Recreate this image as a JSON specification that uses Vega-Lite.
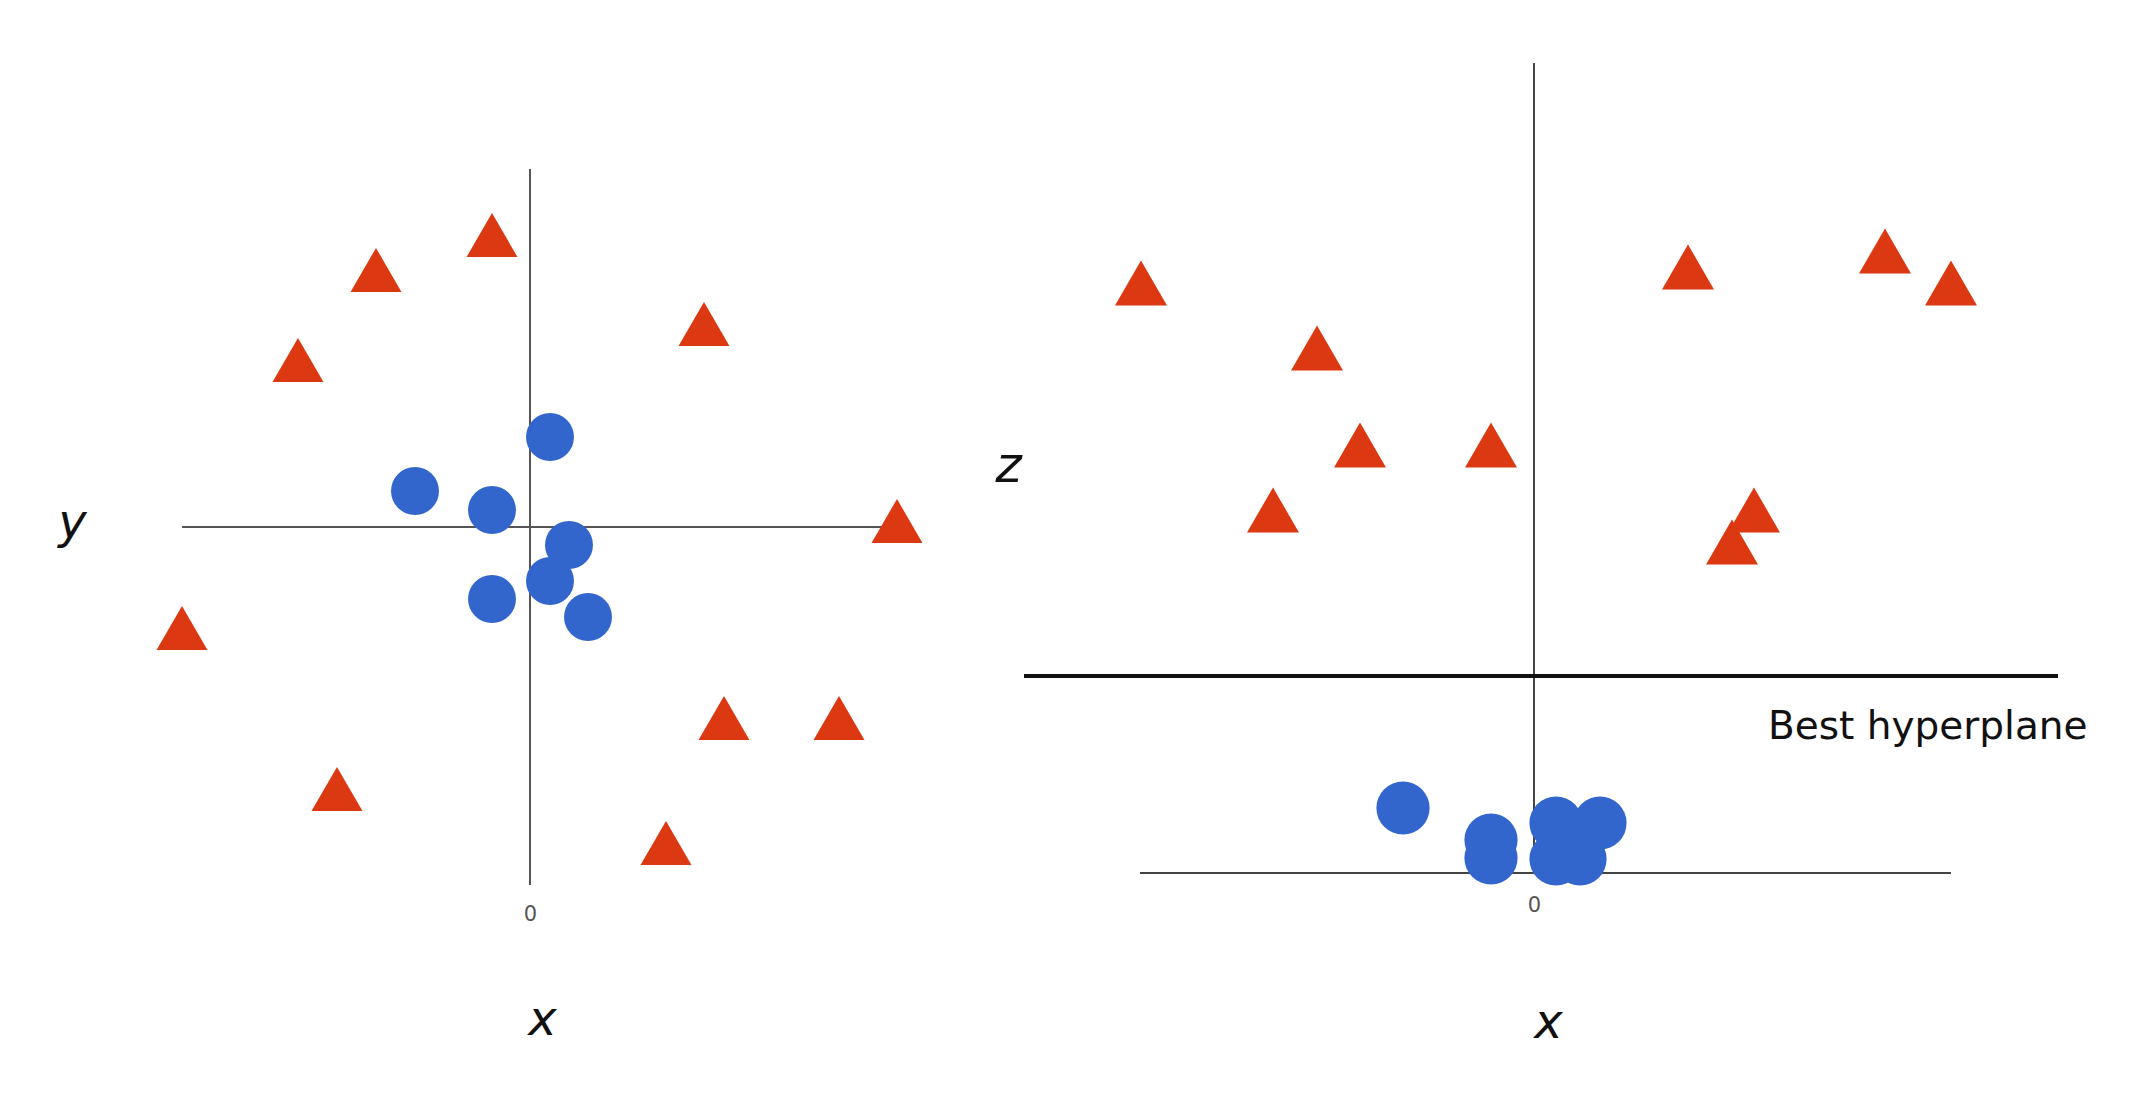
{
  "$schema": "https://vega.github.io/schema/vega-lite/v6.json",
  "background": "white",
  "padding": {"left": 57, "top": 62, "right": 10, "bottom": 30},
  "config": {"view": {"stroke": null}},
  "bounds": "flush",
  "spacing": 129,
  "hconcat": [
    {
      "width": 713,
      "height": 822,
      "encoding": {
        "x": {
          "field": "x", "type": "quantitative",
          "scale": {"domain": [-6.96, 7.3], "nice": false, "zero": false},
          "axis": {"values": [0], "domain": false, "ticks": false, "tickSize": 0, "grid": false,
                   "labelPadding": 18, "labelFontSize": 21, "labelColor": "#555", "labelFont": "DejaVu Sans",
                   "title": "x", "titleFont": "DejaVu Sans", "titleFontStyle": "italic", "titleFontWeight": "normal",
                   "titleFontSize": 48, "titleColor": "#111", "titleX": 360, "titleY": 149,
                   "titleBaseline": "alphabetic", "titleAlign": "center"}
        },
        "y": {
          "field": "y", "type": "quantitative",
          "scale": {"domain": [-7.16, 9.28], "nice": false, "zero": false},
          "axis": {"labels": false, "domain": false, "ticks": false, "grid": false,
                   "title": "y", "titleFont": "DejaVu Sans", "titleFontStyle": "italic", "titleFontWeight": "normal",
                   "titleFontSize": 48, "titleColor": "#111", "titleAngle": 0, "titleX": -110, "titleY": 474,
                   "titleBaseline": "alphabetic", "titleAlign": "center"}
        }
      },
      "layer": [
        {
          "data": {"values": [
            {"x": 0, "y": -7.16, "x2": 0, "y2": 7.16},
            {"x": -6.96, "y": 0, "x2": 7.3, "y2": 0}
          ]},
          "mark": {"type": "rule", "color": "#555", "strokeWidth": 2},
          "encoding": {"x2": {"field": "x2"}, "y2": {"field": "y2"}}
        },
        {
          "data": {"values": [
            {"x": -0.76, "y": 5.84},
            {"x": -3.08, "y": 5.14},
            {"x": -4.64, "y": 3.34},
            {"x": 3.48, "y": 4.06},
            {"x": 7.34, "y": 0.12},
            {"x": -6.96, "y": -2.02},
            {"x": 3.88, "y": -3.82},
            {"x": 6.18, "y": -3.82},
            {"x": -3.86, "y": -5.24},
            {"x": 2.72, "y": -6.32}
          ]},
          "mark": {"type": "point", "shape": "triangle-up", "filled": true, "opacity": 1, "color": "#DC3912", "size": 2600}
        },
        {
          "data": {"values": [
            {"x": 0.4, "y": 1.8},
            {"x": -2.3, "y": 0.72},
            {"x": -0.76, "y": 0.34},
            {"x": 0.78, "y": -0.36},
            {"x": 0.4, "y": -1.08},
            {"x": -0.76, "y": -1.44},
            {"x": 1.16, "y": -1.8}
          ]},
          "mark": {"type": "point", "shape": "circle", "filled": true, "opacity": 1, "color": "#3366CC", "size": 2300}
        }
      ]
    },
    {
      "width": 1034,
      "height": 822,
      "encoding": {
        "x": {
          "field": "x", "type": "quantitative",
          "scale": {"domain": [-10.2, 10.48], "nice": false, "zero": false},
          "axis": {"values": [0], "domain": false, "ticks": false, "tickSize": 0, "grid": false,
                   "labelPadding": 9, "labelFontSize": 21, "labelColor": "#555", "labelFont": "DejaVu Sans",
                   "title": "x", "titleFont": "DejaVu Sans", "titleFontStyle": "italic", "titleFontWeight": "normal",
                   "titleFontSize": 48, "titleColor": "#111", "titleX": 524, "titleY": 152,
                   "titleBaseline": "alphabetic", "titleAlign": "center"}
        },
        "y": {
          "field": "z", "type": "quantitative",
          "scale": {"domain": [-0.24, 16.2], "nice": false, "zero": false},
          "axis": {"labels": false, "domain": false, "ticks": false, "grid": false,
                   "title": "z", "titleFont": "DejaVu Sans", "titleFontStyle": "italic", "titleFontWeight": "normal",
                   "titleFontSize": 50, "titleColor": "#111", "titleAngle": 0, "titleX": -16, "titleY": 418,
                   "titleBaseline": "alphabetic", "titleAlign": "center"}
        }
      },
      "layer": [
        {
          "data": {"values": [
            {"x": 0, "z": 0, "x2": 0, "z2": 16.2},
            {"x": -7.88, "z": 0, "x2": 8.34, "z2": 0}
          ]},
          "mark": {"type": "rule", "color": "#444", "strokeWidth": 2},
          "encoding": {"x2": {"field": "x2"}, "y2": {"field": "z2"}}
        },
        {
          "data": {"values": [
            {"x": -10.2, "z": 3.94, "x2": 10.48, "z2": 3.94}
          ]},
          "mark": {"type": "rule", "color": "#111", "strokeWidth": 4},
          "encoding": {"x2": {"field": "x2"}, "y2": {"field": "z2"}}
        },
        {
          "data": {"values": [
            {"x": 4.68, "z": 2.68, "label": "Best hyperplane"}
          ]},
          "mark": {"type": "text", "align": "left", "baseline": "alphabetic", "font": "DejaVu Sans", "fontSize": 39, "color": "#111"},
          "encoding": {"text": {"field": "label"}}
        },
        {
          "data": {"values": [
            {"x": -7.86, "z": 11.8},
            {"x": -4.34, "z": 10.5},
            {"x": -3.48, "z": 8.56},
            {"x": -0.86, "z": 8.56},
            {"x": -5.22, "z": 7.26},
            {"x": 3.08, "z": 12.12},
            {"x": 7.02, "z": 12.44},
            {"x": 8.34, "z": 11.8},
            {"x": 4.4, "z": 7.26},
            {"x": 3.96, "z": 6.62}
          ]},
          "mark": {"type": "point", "shape": "triangle-up", "filled": true, "opacity": 1, "color": "#DC3912", "size": 2704}
        },
        {
          "data": {"values": [
            {"x": -2.62, "z": 1.3},
            {"x": -0.86, "z": 0.66},
            {"x": -0.86, "z": 0.3},
            {"x": 0.44, "z": 1.0},
            {"x": 1.32, "z": 1.0},
            {"x": 0.44, "z": 0.28},
            {"x": 0.92, "z": 0.28}
          ]},
          "mark": {"type": "point", "shape": "circle", "filled": true, "opacity": 1, "color": "#3366CC", "size": 2830}
        }
      ]
    }
  ]
}
